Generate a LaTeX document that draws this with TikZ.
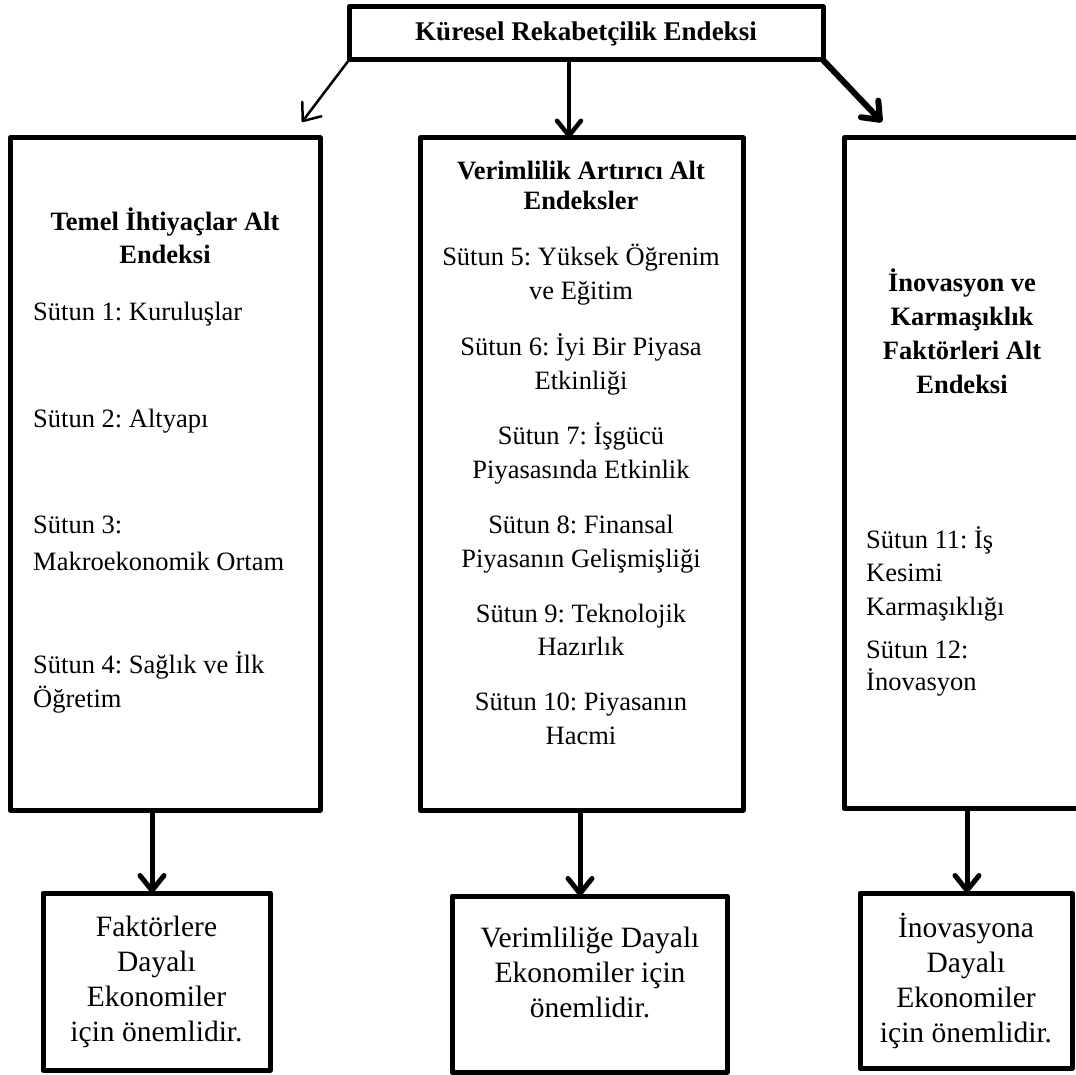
\documentclass[tikz,border=0pt]{standalone}
\usepackage{fontspec}
\setmainfont{Liberation Serif}
\usetikzlibrary{arrows.meta}
\frenchspacing
\begin{document}
\frenchspacing
\begin{tikzpicture}[x=1pt,y=-1pt,
  box/.style={draw, line width=5pt, inner sep=0pt, outer sep=0pt, rectangle, line join=round},
  ct/.style={inner sep=0pt, font=\frenchspacing\fontsize{26.5}{34}\selectfont},
  bt/.style={inner sep=0pt, font=\frenchspacing\fontsize{26.5}{34}\selectfont\bfseries},
  bottxt/.style={align=center, font=\frenchspacing\fontsize{29.5}{35}\selectfont},
  tip/.style={-{Straight Barb[round,length=15pt,width=24pt]}},
  arrthin/.style={tip, line width=2.5pt},
  arrmid/.style={tip, line width=4.5pt},
  arrthick/.style={tip, line width=6pt},
  arrbot/.style={tip, line width=5pt}
]
\useasboundingbox (0,0) rectangle (1076,1075);
\fill[white] (0,0) rectangle (1076,1075);
\clip (0,0) rectangle (1076,1075);

% top box
\node[box, minimum width=474pt, minimum height=53pt, font=\fontsize{27}{32}\selectfont\bfseries] (top) at (586,33.5) {Küresel Rekabetçilik Endeksi};

% column boxes
\node[box, minimum width=310pt, minimum height=672pt] (col1) at (165,474) {};
\node[box, minimum width=323pt, minimum height=672pt] (col2) at (581.5,474) {};
\node[box, minimum width=238pt, minimum height=670pt] (col3) at (963,473) {};

% bottom boxes
\node[box, minimum width=227pt, minimum height=177pt, bottxt] (b1) at (156.5,981.5) {Faktörlere\\Dayalı\\Ekonomiler\\için önemlidir.};
\node[box, minimum width=275pt, minimum height=176pt] (b2) at (589.5,984) {};
\node[bottxt, inner sep=0pt] (b2t) at (590,972) {Verimliliğe Dayalı\\Ekonomiler için\\önemlidir.};
\node[box, minimum width=212pt, minimum height=175pt, bottxt] (b3) at (966,980.5) {İnovasyona\\Dayalı\\Ekonomiler\\için önemlidir.};

% column 1 text
\node[bt, anchor=base] (l0a) at (165,231) {Temel İhtiyaçlar Alt};
\node[bt, anchor=base] (l0b) at (165,264) {Endeksi};
\node[ct, anchor=base west] (l1) at (33,320) {Sütun 1: Kuruluşlar};
\node[ct, anchor=base west] (l2) at (33,427) {Sütun 2: Altyapı};
\node[ct, anchor=base west] (l3a) at (33,533) {Sütun 3:};
\node[ct, anchor=base west] (l3b) at (33,570) {Makroekonomik Ortam};
\node[ct, anchor=base west] (l4a) at (33,673) {Sütun 4: Sağlık ve İlk};
\node[ct, anchor=base west] (l4b) at (33,707) {Öğretim};

% column 2 text
\node[bt, anchor=base] (m0a) at (581,180) {Verimlilik Artırıcı Alt};
\node[bt, anchor=base] (m0b) at (581,210) {Endeksler};
\node[ct, anchor=base] (m5a) at (581,266) {Sütun 5: Yüksek Öğrenim};
\node[ct, anchor=base] (m5b) at (581,300) {ve Eğitim};
\node[ct, anchor=base] (m6a) at (581,355) {Sütun 6: İyi Bir Piyasa};
\node[ct, anchor=base] (m6b) at (581,389) {Etkinliği};
\node[ct, anchor=base] (m7a) at (581,444) {Sütun 7: İşgücü};
\node[ct, anchor=base] (m7b) at (581,478) {Piyasasında Etkinlik};
\node[ct, anchor=base] (m8a) at (581,533) {Sütun 8: Finansal};
\node[ct, anchor=base] (m8b) at (581,567) {Piyasanın Gelişmişliği};
\node[ct, anchor=base] (m9a) at (581,622) {Sütun 9: Teknolojik};
\node[ct, anchor=base] (m9b) at (581,655) {Hazırlık};
\node[ct, anchor=base] (m10a) at (581,710) {Sütun 10: Piyasanın};
\node[ct, anchor=base] (m10b) at (581,744) {Hacmi};

% column 3 text
\node[bt, anchor=base] (r0a) at (962,292) {İnovasyon ve};
\node[bt, anchor=base] (r0b) at (962,326) {Karmaşıklık};
\node[bt, anchor=base] (r0c) at (962,359) {Faktörleri Alt};
\node[bt, anchor=base] (r0d) at (962,393) {Endeksi};
\node[ct, anchor=base west] (r11a) at (866,548) {Sütun 11: İş};
\node[ct, anchor=base west] (r11b) at (866,581) {Kesimi};
\node[ct, anchor=base west] (r11c) at (866,615) {Karmaşıklığı};
\node[ct, anchor=base west] (r12a) at (866,658) {Sütun 12:};
\node[ct, anchor=base west] (r12b) at (866,690) {İnovasyon};

% connectors
\coordinate (ltip) at (302,122);
\coordinate (rtip) at (882,122);
\draw[arrthin] (top.south west) -- (ltip);
\draw[arrmid] (569,0 |- top.south) -- (569,0 |- col2.north);
\draw[arrthick] (top.south east) -- (rtip);
\draw[arrbot] (152,0 |- col1.south) -- (152,0 |- b1.north);
\draw[arrbot] (580,0 |- col2.south) -- (580,0 |- b2.north);
\draw[arrbot] (967,0 |- col3.south) -- (967,0 |- b3.north);
\end{tikzpicture}
\end{document}
